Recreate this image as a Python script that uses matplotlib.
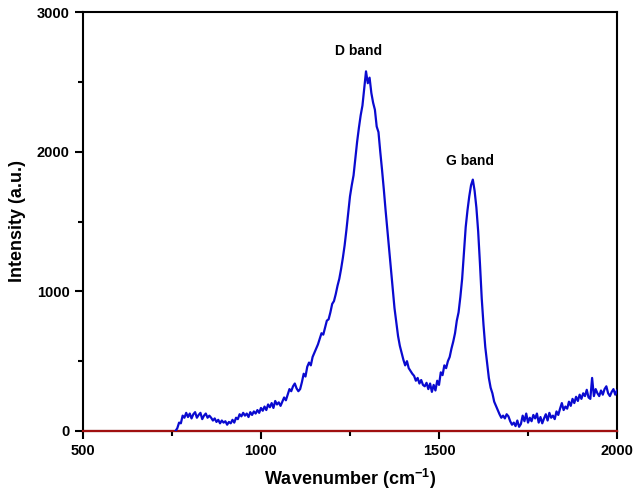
import numpy as np
import matplotlib
matplotlib.use('Agg')
import matplotlib.pyplot as plt

# Raman spectrum, 5 cm-1 steps from 760 to 2000
wavenumber = np.arange(760, 2001, 5)
intensity = [
    0, 20, 60, 55, 110, 95, 130, 100, 125, 90,            # 760-805
    120, 135, 95, 115, 130, 85, 110, 125, 95, 110,        # 810-855
    95, 75, 90, 65, 80, 55, 75, 60, 70, 45,               # 860-905
    65, 55, 80, 60, 95, 85, 120, 105, 130, 110,           # 910-955
    125, 100, 135, 115, 140, 125, 150, 130, 165, 145,     # 960-1005
    175, 150, 190, 170, 200, 165, 215, 190, 205, 180,     # 1010-1055
    210, 240, 220, 260, 300, 285, 320, 340, 305, 285,     # 1060-1105
    300, 350, 410, 390, 460, 490, 470, 530, 560, 590,     # 1110-1155
    620, 660, 700, 690, 740, 790, 800, 850, 910, 930,     # 1160-1205
    980, 1040, 1090, 1160, 1240, 1330, 1440, 1560, 1680, 1760,  # 1210-1255
    1830, 1950, 2070, 2170, 2260, 2330, 2450, 2575, 2490, 2530, # 1260-1305
    2420, 2350, 2300, 2180, 2140, 2000, 1870, 1730, 1580, 1440, # 1310-1355
    1300, 1160, 1020, 880, 780, 680, 610, 560, 510, 470,  # 1360-1405
    500, 450, 430, 410, 395, 360, 380, 340, 365, 330,     # 1410-1455
    320, 345, 300, 340, 280, 330, 290, 360, 330, 420,     # 1460-1505
    400, 470, 450, 500, 530, 590, 640, 700, 790, 850,     # 1510-1555
    960, 1090, 1280, 1460, 1580, 1680, 1760, 1800, 1720, 1600,  # 1560-1605
    1430, 1200, 950, 760, 600, 490, 380, 310, 270, 210,   # 1610-1655
    180, 150, 120, 95, 110, 90, 120, 105, 70, 45,         # 1660-1705
    60, 35, 75, 30, 50, 110, 70, 125, 60, 95,             # 1710-1755
    70, 115, 90, 125, 60, 100, 55, 90, 120, 75,           # 1760-1805
    130, 95, 110, 85, 140, 115, 160, 200, 150, 175,       # 1810-1855
    160, 210, 180, 230, 200, 245, 215, 260, 230, 270,     # 1860-1905
    250, 295, 240, 230, 380, 250, 300, 270, 250, 290,     # 1910-1955
    260, 300, 320, 270, 250, 280, 300, 260, 290,          # 1960-2000
]

band_names = ['D band', 'G band']
band_pos = [1274, 1588]
band_label_y = [2720, 1935]

plt.rcParams['font.family'] = ['Liberation Sans', 'DejaVu Sans']
plt.rcParams['font.weight'] = 'bold'
plt.rcParams['mathtext.fontset'] = 'custom'
plt.rcParams['mathtext.rm'] = 'Liberation Sans:bold'
plt.rcParams['mathtext.default'] = 'rm'

fig = plt.figure(figsize=(6.43, 5.0), dpi=100)
ax = fig.add_axes([0.129, 0.138, 0.8306, 0.838])

# baseline drawn over the bottom spine, spectrum on top of it
ax.axhline(0, color='#a01010', lw=1.6, zorder=3, clip_on=False)
ax.plot(wavenumber, intensity, color='#0a0ad0', lw=1.6, zorder=4)

for name, x, y in zip(band_names, band_pos, band_label_y):
    ax.text(x, y, name, ha='center', va='center', fontsize=10, fontweight='bold')

ax.set_xlim(500, 2000)
ax.set_ylim(0, 3000)
ax.set_xticks([500, 1000, 1500, 2000])
ax.set_xticks([750, 1250, 1750], minor=True)
ax.set_yticks([0, 1000, 2000, 3000])
ax.set_yticks([500, 1500, 2500], minor=True)
ax.tick_params(which='major', direction='out', length=6, width=1.5, labelsize=10.5)
ax.tick_params(which='minor', direction='out', length=3.5, width=1.5)
ax.tick_params(top=False, right=False)
for sp in ax.spines.values():
    sp.set_linewidth(1.5)

ax.set_xlabel(r'Wavenumber (cm$^{-1}$)', fontsize=13, fontweight='bold', labelpad=6)
ax.set_ylabel('Intensity (a.u.)', fontsize=13, fontweight='bold', labelpad=8)

fig.savefig('out.png', dpi=100)
